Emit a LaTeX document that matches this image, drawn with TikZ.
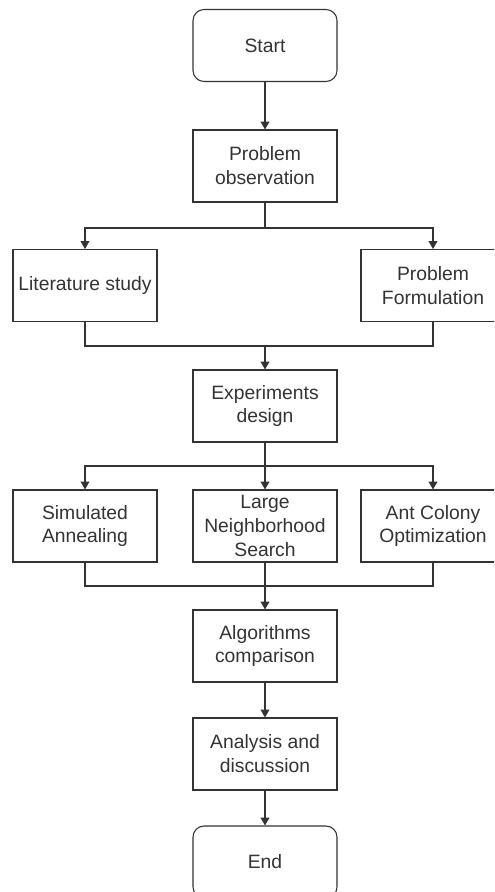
\documentclass[tikz,border=0pt]{standalone}
\usepackage{fontspec}
\setmainfont{Liberation Sans}
\usetikzlibrary{arrows.meta,positioning,shapes}
\definecolor{linegray}{HTML}{333333}

\begin{document}
\begin{tikzpicture}[x=0.02cm,y=-0.02cm,
  box/.style={draw=linegray,line width=0.6pt,minimum width=2.88cm,minimum height=1.44cm,
    align=center,font=\fontsize{11}{13.6}\selectfont,text=linegray,inner sep=2pt},
  term/.style={box,rounded corners=0.22cm},
  arr/.style={-{Triangle[width=5pt,length=4.5pt]},draw=linegray,line width=0.6pt},
  ln/.style={draw=linegray,line width=0.6pt}]
\useasboundingbox (0,0) rectangle (494,892);
\clip (0,0) rectangle (494,892);
\node[term] (start) at (265,45.5) {Start};
\node[box] (obs) at (265,166) {Problem\\observation};
\node[box] (lit) at (85,285.5) {Literature study};
\node[box] (form) at (433,285.5) {Problem\\Formulation};
\node[box] (exp) at (265,406) {Experiments\\design};
\node[box] (sa) at (85,526) {Simulated\\Annealing};
\node[box] (lns) at (265,526) {Large\\Neighborhood\\Search};
\node[box] (aco) at (433,526) {Ant Colony\\Optimization};
\node[box] (alg) at (265,646) {Algorithms\\comparison};
\node[box] (ana) at (265,754) {Analysis and\\discussion};
\node[term] (end) at (265,862) {End};
\coordinate (split1) at (265,228);
\coordinate (join1) at (265,346);
\coordinate (split2) at (265,466);
\coordinate (join2) at (265,586);
\draw[arr] (start) -- (obs);
\draw[ln] (obs.south) -- (split1);
\draw[arr] (split1) -| (lit.north);
\draw[arr] (split1) -| (form.north);
\draw[ln] (lit.south) |- (join1);
\draw[ln] (form.south) |- (join1);
\draw[arr] (join1) -- (exp.north);
\draw[ln] (exp.south) -- (split2);
\draw[arr] (split2) -| (sa.north);
\draw[arr] (split2) -- (lns.north);
\draw[arr] (split2) -| (aco.north);
\draw[ln] (sa.south) |- (join2);
\draw[ln] (aco.south) |- (join2);
\draw[ln] (lns.south) -- (join2);
\draw[arr] (join2) -- (alg.north);
\draw[arr] (alg) -- (ana);
\draw[arr] (ana) -- (end);
\end{tikzpicture}
\end{document}
